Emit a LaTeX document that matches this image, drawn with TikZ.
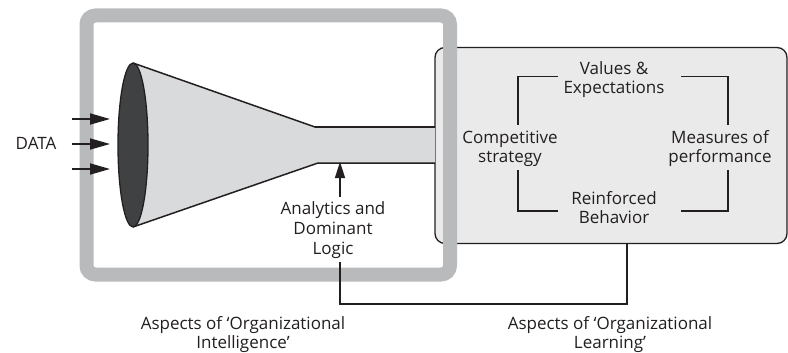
\documentclass[tikz,border=0pt]{standalone}
\usepackage{fontspec}
\setmainfont{Open Sans}
\usetikzlibrary{arrows.meta,shapes.geometric}
\definecolor{framegray}{HTML}{B9BABC}
\definecolor{boxfill}{HTML}{EAEAEB}
\definecolor{conefill}{HTML}{D9DADB}
\definecolor{lensfill}{HTML}{3F4142}
\definecolor{ink}{HTML}{231F20}
\newcommand{\fl}{\rule{0pt}{13.5pt}}
\tikzset{
  lbl/.style={font=\fontsize{17}{19.7}\selectfont, text=ink, align=center, inner sep=0pt, anchor=north},
  bracket/.style={draw=ink, line width=1.3pt},
  conn/.style={draw=ink, line width=1.3pt},
  dataarrow/.style={draw=ink, line width=1.8pt, -{Triangle[length=20pt,width=11pt]}},
}
\begin{document}
\begin{tikzpicture}[x=1pt,y=-1pt]
\useasboundingbox (0,0) rectangle (788,353);
\fill[white] (0,0) rectangle (788,353);
% right box
\node[draw=ink, fill=boxfill, line width=1.3pt, rounded corners=10pt, minimum width=352pt, minimum height=196pt, inner sep=0pt] (learn) at (611,145.5) {};
% cone
\coordinate (lt) at (133,63);
\coordinate (lb) at (133,227);
\coordinate (nt) at (315,127);
\coordinate (nb) at (318,163);
\coordinate (et) at (435,127);
\coordinate (eb) at (435,163);
\fill[conefill] (lt) -- (nt) -- (et) -- (eb) -- (nb) -- (lb) -- cycle;
\draw[ink, line width=1.5pt] (lt) -- (nt) -- (et);
\draw[ink, line width=1.5pt] (lb) -- (nb) -- (eb);
\node[draw=ink, fill=lensfill, line width=1.3pt, ellipse, minimum width=30pt, minimum height=164pt, inner sep=0pt] (lens) at (133,145) {};
% frame
\draw[framegray, line width=14pt, rounded corners=9pt] (86.5,15.5) rectangle (450,274.5);
% data
\node[lbl] (data) at (36,136) {\fl DATA};
\coordinate (d1s) at (72,119); \coordinate (d1e) at (110,119);
\coordinate (d2s) at (72,144); \coordinate (d2e) at (110,144);
\coordinate (d3s) at (72,169); \coordinate (d3e) at (110,169);
\draw[dataarrow] (d1s) -- (d1e);
\draw[dataarrow] (d2s) -- (d2e);
\draw[dataarrow] (d3s) -- (d3e);
% analytics
\node[lbl] (anal) at (333,201) {\fl Analytics and\\Dominant\\Logic};
\coordinate (at) at (340,162);
\draw[ink, line width=1.6pt, -{Triangle[length=16pt,width=10pt]}] (340,197) -- (at);
% connector
\coordinate (c1) at (340,262);
\coordinate (c2) at (627,244);
\draw[conn] (c1) |- (627,304) -- (c2);
% learning texts
\node[lbl] (val) at (614,60.5) {\fl Values \&\\Expectations};
\node[lbl] (comp) at (510,129.5) {\fl Competitive\\strategy};
\node[lbl] (meas) at (720,129.5) {\fl Measures of\\performance};
\node[lbl] (reinf) at (614,190.5) {\fl Reinforced\\Behavior};
% brackets
\draw[bracket] (558,76.5) -- (518,76.5) -- (518,125);
\draw[bracket] (681,76.5) -- (728,76.5) -- (728,125);
\draw[bracket] (518,170) -- (518,211) -- (558,211);
\draw[bracket] (728,170) -- (728,211) -- (681,211);
% bottom labels
\node[lbl] (oi) at (243,315.5) {\fl Aspects of ‘Organizational\\Intelligence’};
\node[lbl] (ol) at (610,315.5) {\fl Aspects of ‘Organizational\\Learning’};
\end{tikzpicture}
\end{document}
